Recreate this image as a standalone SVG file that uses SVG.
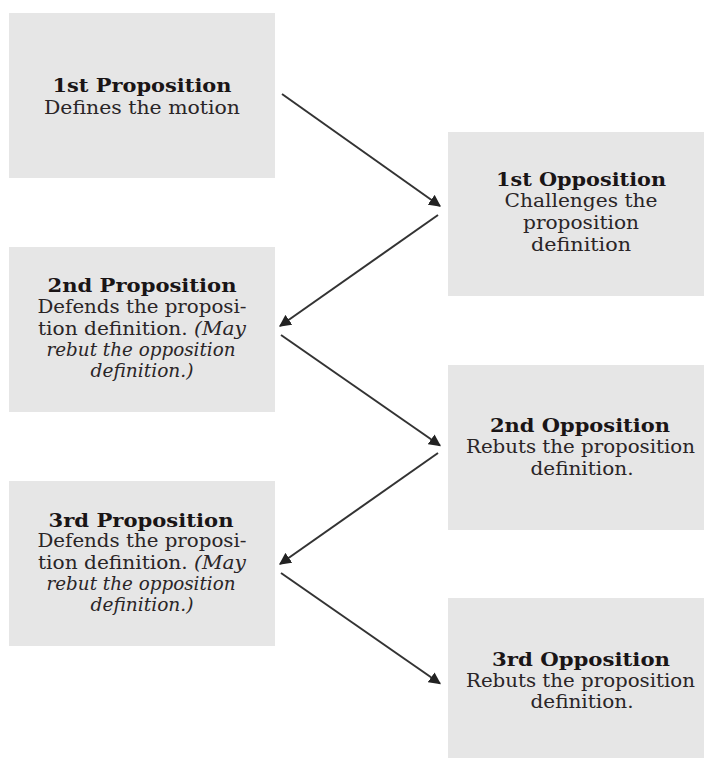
<svg xmlns="http://www.w3.org/2000/svg" width="704" height="758" viewBox="0 0 704 758">
<style>
.box{fill:#e6e6e6}
text{font-family:"DejaVu Serif","Liberation Serif",serif;font-size:18px;fill:#2a2527;text-anchor:middle}
.t{font-weight:bold;fill:#1a1516}
.i{font-style:italic}
.c{stroke:#333;stroke-width:2;fill:none;marker-end:url(#ah)}
</style>
<defs>
<marker id="ah" viewBox="0 0 10 10" refX="9" refY="5" markerWidth="6" markerHeight="6" orient="auto" markerUnits="strokeWidth">
<path d="M0,0 L10,5 L0,10 z" fill="#222"/>
</marker>
</defs>
<rect width="704" height="758" fill="#fff"/>
<g id="prop1">
<rect class="box" x="9" y="13" width="266" height="165"/>
<text class="t" x="142" y="92" textLength="179" lengthAdjust="spacingAndGlyphs">1st Proposition</text>
<text x="142" y="114" textLength="196" lengthAdjust="spacingAndGlyphs">Defines the motion</text>
</g>
<g id="opp1">
<rect class="box" x="448" y="132" width="256" height="164"/>
<text class="t" x="581" y="186" textLength="170" lengthAdjust="spacingAndGlyphs">1st Opposition</text>
<text x="581" y="207" textLength="153" lengthAdjust="spacingAndGlyphs">Challenges the</text>
<text x="581" y="228.5" textLength="116" lengthAdjust="spacingAndGlyphs">proposition</text>
<text x="581" y="250.5" textLength="100" lengthAdjust="spacingAndGlyphs">definition</text>
</g>
<g id="prop2">
<rect class="box" x="9" y="247" width="266" height="165"/>
<text class="t" x="142" y="292" textLength="189" lengthAdjust="spacingAndGlyphs">2nd Proposition</text>
<text x="142" y="313" textLength="209" lengthAdjust="spacingAndGlyphs">Defends the proposi-</text>
<text x="142" y="334.5" textLength="208" lengthAdjust="spacingAndGlyphs">tion definition. <tspan class="i">(May</tspan></text>
<text class="i" x="141" y="355.5" textLength="189" lengthAdjust="spacingAndGlyphs">rebut the opposition</text>
<text class="i" x="142" y="376.5" textLength="103" lengthAdjust="spacingAndGlyphs">definition.)</text>
</g>
<g id="opp2">
<rect class="box" x="448" y="365" width="256" height="165"/>
<text class="t" x="580" y="431.5" textLength="180" lengthAdjust="spacingAndGlyphs">2nd Opposition</text>
<text x="580.5" y="453" textLength="229" lengthAdjust="spacingAndGlyphs">Rebuts the proposition</text>
<text x="582" y="475" textLength="103" lengthAdjust="spacingAndGlyphs">definition.</text>
</g>
<g id="prop3">
<rect class="box" x="9" y="481" width="266" height="165"/>
<text class="t" x="141" y="526.5" textLength="185" lengthAdjust="spacingAndGlyphs">3rd Proposition</text>
<text x="142" y="547" textLength="209" lengthAdjust="spacingAndGlyphs">Defends the proposi-</text>
<text x="142" y="568.5" textLength="208" lengthAdjust="spacingAndGlyphs">tion definition. <tspan class="i">(May</tspan></text>
<text class="i" x="141" y="589.5" textLength="189" lengthAdjust="spacingAndGlyphs">rebut the opposition</text>
<text class="i" x="142" y="610.5" textLength="103" lengthAdjust="spacingAndGlyphs">definition.)</text>
</g>
<g id="opp3">
<rect class="box" x="448" y="598" width="256" height="160"/>
<text class="t" x="581" y="665.5" textLength="178" lengthAdjust="spacingAndGlyphs">3rd Opposition</text>
<text x="580.5" y="686.5" textLength="229" lengthAdjust="spacingAndGlyphs">Rebuts the proposition</text>
<text x="582" y="708" textLength="103" lengthAdjust="spacingAndGlyphs">definition.</text>
</g>
<g id="connectors">
<line class="c" x1="282" y1="94" x2="440" y2="206"/>
<line class="c" x1="438" y1="215" x2="280" y2="326"/>
<line class="c" x1="281" y1="335" x2="440" y2="445.5"/>
<line class="c" x1="438" y1="453" x2="280" y2="564"/>
<line class="c" x1="281" y1="573" x2="440" y2="683.5"/>
</g>
</svg>
